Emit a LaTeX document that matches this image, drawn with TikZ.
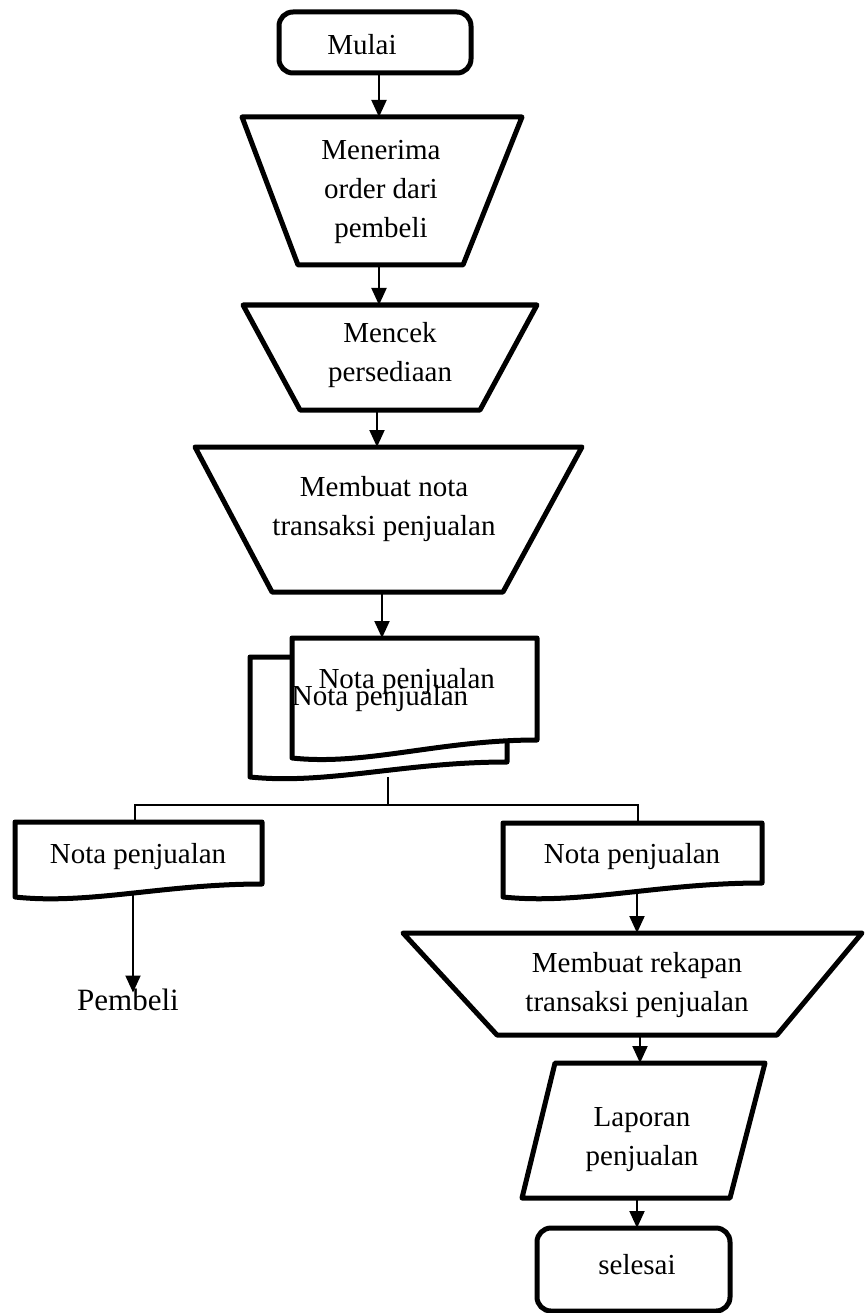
\documentclass[tikz,border=0pt]{standalone}
\usepackage{fontspec}
\setmainfont{Liberation Serif}
\usetikzlibrary{arrows.meta}

\begin{document}
\begin{tikzpicture}[x=1pt,y=-1pt,
  bb/.style={draw=none, inner sep=0pt, outer sep=0pt},
  sh/.style={draw=black, fill=white, line width=5pt, line join=round},
  lbl/.style={font=\fontsize{29}{39}\selectfont, align=center, inner sep=0pt, outer sep=0pt},
  flow/.style={line width=2pt, -{Triangle[length=17pt,width=15pt]}},
  link/.style={line width=1.6pt}]

\useasboundingbox (0,0) rectangle (864,1313);

% ---- shape frames ----
\node[bb, minimum width=192pt, minimum height=61pt]  (mulai) at (375,42.5) {};
\node[bb, minimum width=280pt, minimum height=148pt] (t1)    at (382,191) {};
\node[bb, minimum width=294pt, minimum height=105pt] (t2)    at (390,357.5) {};
\node[bb, minimum width=387pt, minimum height=145pt] (t3)    at (388.5,519.5) {};
\node[bb, minimum width=257pt, minimum height=120pt] (docB)  at (378.5,717) {};
\node[bb, minimum width=245pt, minimum height=120pt] (docF)  at (414.5,698) {};
\node[bb, minimum width=247pt, minimum height=75pt]  (docL)  at (138.5,859.5) {};
\node[bb, minimum width=259pt, minimum height=74pt]  (docR)  at (632.5,860) {};
\node[bb, minimum width=459pt, minimum height=102pt] (t4)    at (632.5,984) {};
\node[bb, minimum width=243pt, minimum height=135pt] (lap)   at (643.5,1130.5) {};
\node[bb, minimum width=193pt, minimum height=83pt]  (sel)   at (633.5,1269.5) {};

% ---- outlines ----
\draw[sh, rounded corners=14pt] (mulai.north west) rectangle (mulai.south east);
\draw[sh] (t1.north west) -- (t1.north east) -- ([xshift=-59pt]t1.south east) -- ([xshift=56pt]t1.south west) -- cycle;
\draw[sh] (t2.north west) -- (t2.north east) -- ([xshift=-57pt]t2.south east) -- ([xshift=57pt]t2.south west) -- cycle;
\draw[sh] (t3.north west) -- (t3.north east) -- ([xshift=-79pt]t3.south east) -- ([xshift=77pt]t3.south west) -- cycle;

% document stack
\draw[sh] (docB.north west) -- (docB.north east) -- ([yshift=15pt]docB.south east)
  .. controls +(-103,0) and +(77,8) .. (docB.south west) -- cycle;
\draw[sh] (docF.north west) -- (docF.north east) -- ([yshift=18pt]docF.south east)
  .. controls +(-98,0) and +(74,8) .. (docF.south west) -- cycle;

% single documents
\draw[sh] (docL.north west) -- (docL.north east) -- ([yshift=13pt]docL.south east)
  .. controls +(-99,0) and +(74,8) .. (docL.south west) -- cycle;
\draw[sh] (docR.north west) -- (docR.north east) -- ([yshift=14pt]docR.south east)
  .. controls +(-104,0) and +(78,8) .. (docR.south west) -- cycle;

\draw[sh] (t4.north west) -- (t4.north east) -- ([xshift=-85pt]t4.south east) -- ([xshift=94pt]t4.south west) -- cycle;
\draw[sh] ([xshift=33pt]lap.north west) -- (lap.north east) -- ([xshift=-35pt]lap.south east) -- (lap.south west) -- cycle;
\draw[sh, rounded corners=14pt] (sel.north west) rectangle (sel.south east);

% ---- texts ----
\node[lbl] (mulaiT) at (362,45) {Mulai};
\node[lbl] (t1T)    at (381,192) {Menerima\\order dari\\pembeli};
\node[lbl] (t2T)    at (390,355) {Mencek\\persediaan};
\node[lbl] (t3T)    at (384,509) {Membuat nota\\transaksi penjualan};
\node[lbl] (docFT)  at (406.7,681.3) {Nota penjualan};
\node[lbl] (docBT)  at (380,698.3) {Nota penjualan};
\node[lbl] (docLT)  at (138,856.3) {Nota penjualan};
\node[lbl] (docRT)  at (632,856.3) {Nota penjualan};
\node[lbl, font=\fontsize{31}{39}\selectfont, anchor=base] (pembeli) at (128,1010) {Pembeli};
\node[lbl] (t4T)    at (637,985) {Membuat rekapan\\transaksi penjualan};
\node[lbl] (lapT)   at (642,1140) {Laporan\\penjualan};
\node[lbl] (selT)   at (637,1265) {selesai};

% ---- connectors ----
\draw[flow] ([xshift=4pt]mulai.south) -- ([xshift=-3pt]t1.north);
\draw[flow] ([xshift=-3pt]t1.south) -- ([xshift=-11pt]t2.north);
\draw[flow] ([xshift=-13pt]t2.south) -- ([xshift=-11.5pt]t3.north);
\draw[flow] ([xshift=-6.5pt]t3.south) -- ([xshift=-32.5pt]docF.north);

\draw[link] ([xshift=9.5pt]docB.south) -- ++(0,28) -| ([xshift=-3.5pt]docL.north);
\draw[link] ([xshift=9.5pt]docB.south) -- ++(0,28) -| ([xshift=5.5pt]docR.north);

\draw[flow] ([xshift=-5.5pt,yshift=3pt]docL.south) -- ([xshift=5pt,yshift=-4pt]pembeli.north);
\draw[flow] ([xshift=4.5pt,yshift=6pt]docR.south) -- ([xshift=4.5pt]t4.north);
\draw[flow] ([xshift=7.5pt]t4.south) -- ([xshift=-3.5pt]lap.north);
\draw[flow] ([xshift=-6.5pt]lap.south) -- ([xshift=3.5pt]sel.north);

\end{tikzpicture}
\end{document}
